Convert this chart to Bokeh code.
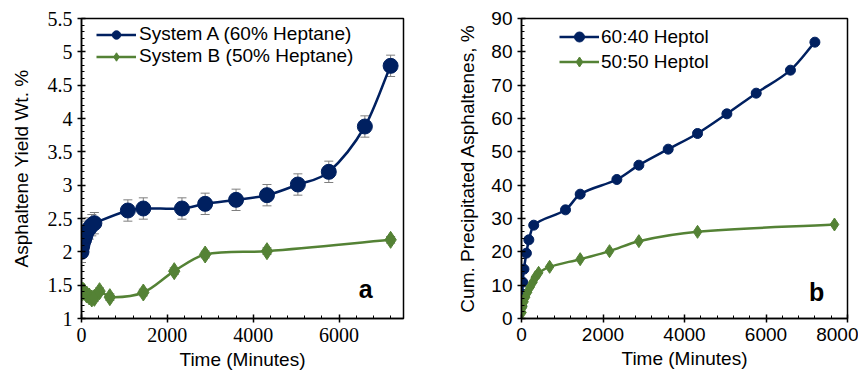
from bokeh.plotting import figure
from bokeh.layouts import row
from bokeh.models import (Range1d, SingleIntervalTicker, Whisker, TeeHead, ColumnDataSource,
                          Legend, LegendItem, Label)
from bokeh.embed import file_html
from bokeh.resources import INLINE

# ---------------- data: panel a ----------------
a_time = [0, 15, 30, 60, 90, 120, 180, 240, 300, 1080, 1440, 2340, 2880, 3600, 4320, 5040, 5760, 6600, 7200]
a_yield = [2.00, 2.08, 2.13, 2.18, 2.24, 2.30, 2.35, 2.40, 2.43, 2.62, 2.65, 2.65, 2.72, 2.78, 2.85, 3.01, 3.20, 3.88, 4.79]
a_err = [0.16] * 19

b_time = [0, 30, 60, 120, 180, 240, 300, 420, 660, 1440, 2160, 2880, 4320, 7200]
b_yield = [1.38, 1.42, 1.40, 1.36, 1.33, 1.30, 1.31, 1.41, 1.32, 1.39, 1.71, 1.96, 2.01, 2.18]
b_err = [0.05] * 14

# ---------------- data: panel b ----------------
c_time = [5, 15, 30, 60, 120, 180, 300, 1080, 1440, 2340, 2880, 3600, 4320, 5040, 5760, 6600, 7200]
c_cum = [3.8, 7.4, 10.9, 14.8, 19.6, 23.6, 28.0, 32.6, 37.3, 41.7, 46.0, 50.8, 55.5, 61.4, 67.6, 74.5, 82.9]

d_time = [10, 30, 60, 100, 150, 210, 280, 340, 420, 690, 1440, 2160, 2880, 4320, 7680]
d_cum = [1.8, 3.5, 5.0, 6.4, 7.9, 9.4, 10.9, 12.4, 13.7, 15.5, 17.8, 20.2, 23.2, 26.0, 28.2]

BLUE = "#002060"
GREEN = "#548235"
SANS = "Liberation Sans"
SERIF = "Liberation Serif"


def smooth_segments(xs, ys):
    """Cubic Hermite (in x) bezier control points so the connecting line is smoothed like Excel."""
    n = len(xs)
    m = []
    for i in range(n):
        if i == 0:
            m.append((ys[1] - ys[0]) / (xs[1] - xs[0]))
        elif i == n - 1:
            m.append((ys[-1] - ys[-2]) / (xs[-1] - xs[-2]))
        else:
            m.append((ys[i + 1] - ys[i - 1]) / (xs[i + 1] - xs[i - 1]))
    d = dict(x0=[], y0=[], x1=[], y1=[], cx0=[], cy0=[], cx1=[], cy1=[])
    for i in range(n - 1):
        h = xs[i + 1] - xs[i]
        d["x0"].append(xs[i]); d["y0"].append(ys[i])
        d["x1"].append(xs[i + 1]); d["y1"].append(ys[i + 1])
        d["cx0"].append(xs[i] + h / 3); d["cy0"].append(ys[i] + m[i] * h / 3)
        d["cx1"].append(xs[i + 1] - h / 3); d["cy1"].append(ys[i + 1] - m[i + 1] * h / 3)
    return ColumnDataSource(d)


def smooth_line(p, xs, ys, color, width):
    return p.bezier(x0="x0", y0="y0", x1="x1", y1="y1", cx0="cx0", cy0="cy0", cx1="cx1", cy1="cy1",
                    source=smooth_segments(xs, ys), line_color=color, line_width=width)


def style_axes(p, tick_font, tick_size):
    p.outline_line_color = "black"
    p.outline_line_width = 1.5
    p.grid.grid_line_color = None
    for ax in (p.xaxis[0], p.yaxis[0]):
        ax.axis_line_width = 1.5
        ax.axis_line_color = "black"
        ax.major_tick_in = 4
        ax.major_tick_out = 4
        ax.minor_tick_in = 3
        ax.minor_tick_out = 0
        ax.major_tick_line_color = "black"
        ax.minor_tick_line_color = "black"
        ax.major_tick_line_width = 1.5
        ax.minor_tick_line_width = 1
        ax.major_label_text_font = tick_font
        ax.major_label_text_font_size = tick_size
        ax.major_label_text_color = "black"
        ax.axis_label_text_font = SANS
        ax.axis_label_text_font_size = "19px"
        ax.axis_label_text_font_style = "normal"
        ax.axis_label_text_color = "black"


# ---------------- panel a ----------------
p1 = figure(width=431, height=372, output_backend="svg", toolbar_location=None,
            x_range=Range1d(0, 7500), y_range=Range1d(1, 5.5),
            min_border_left=81, min_border_right=28, min_border_top=18, min_border_bottom=52)
p1.xaxis.ticker = SingleIntervalTicker(interval=2000, num_minor_ticks=5)
p1.yaxis.ticker = SingleIntervalTicker(interval=0.5, num_minor_ticks=5)
p1.xaxis.axis_label = "Time (Minutes)"
p1.yaxis.axis_label = "Asphaltene Yield Wt. %"
style_axes(p1, SERIF, "20px")
p1.yaxis.axis_label_standoff = 13
p1.xaxis.axis_label_standoff = 4

src_a = ColumnDataSource(dict(x=a_time, y=a_yield,
                              up=[v + e for v, e in zip(a_yield, a_err)],
                              lo=[v - e for v, e in zip(a_yield, a_err)]))
src_b = ColumnDataSource(dict(x=b_time, y=b_yield,
                              up=[v + e for v, e in zip(b_yield, b_err)],
                              lo=[v - e for v, e in zip(b_yield, b_err)]))
for src in (src_a, src_b):
    w = Whisker(source=src, base="x", upper="up", lower="lo", line_color="#7f7f7f", line_width=1,
                upper_head=TeeHead(size=9, line_color="#7f7f7f", line_width=1),
                lower_head=TeeHead(size=9, line_color="#7f7f7f", line_width=1))
    p1.add_layout(w)

la = smooth_line(p1, a_time, a_yield, BLUE, 2.5)
sa = p1.scatter("x", "y", source=src_a, marker="circle", size=15, fill_color=BLUE, line_color=BLUE)
lb = smooth_line(p1, b_time, b_yield, GREEN, 2.5)
sb = p1.scatter("x", "y", source=src_b, marker="diamond", size=17, fill_color=GREEN, line_color=GREEN)

leg1 = Legend(items=[LegendItem(label="System A (60% Heptane)", renderers=[la, sa]),
                     LegendItem(label="System B (50% Heptane)", renderers=[lb, sb])],
              location=(15, 251), background_fill_alpha=0, border_line_color=None,
              label_text_font=SANS, label_text_font_size="19px", label_text_color="black",
              glyph_width=40, glyph_height=21, label_height=21, spacing=0, padding=0,
              margin=0, label_standoff=3)
p1.add_layout(leg1)
p1.add_layout(Label(x=6620, y=1.45, text="a", text_font=SANS, text_font_size="25px",
                    text_color="black", text_font_style="bold", text_align="center",
                    text_baseline="middle"))

# ---------------- panel b ----------------
p2 = figure(width=427, height=372, output_backend="svg", toolbar_location=None,
            x_range=Range1d(0, 8000), y_range=Range1d(0, 90),
            min_border_left=90, min_border_right=11, min_border_top=16, min_border_bottom=52)
p2.xaxis.ticker = SingleIntervalTicker(interval=2000, num_minor_ticks=5)
p2.yaxis.ticker = SingleIntervalTicker(interval=10, num_minor_ticks=5)
p2.xaxis.axis_label = "Time (Minutes)"
p2.yaxis.axis_label = "Cum. Precipitated Asphaltenes, %"
style_axes(p2, SANS, "19px")
p2.yaxis.axis_label_standoff = 10
p2.xaxis.axis_label_standoff = 4

lc = smooth_line(p2, c_time, c_cum, BLUE, 2.5)
sc = p2.scatter(c_time, c_cum, marker="circle", size=10, fill_color=BLUE, line_color=BLUE)
ld = smooth_line(p2, d_time, d_cum, GREEN, 2.5)
sd = p2.scatter(d_time, d_cum, marker="diamond", size=13, fill_color=GREEN, line_color=GREEN)

leg2 = Legend(items=[LegendItem(label="60:40 Heptol", renderers=[lc, sc]),
                     LegendItem(label="50:50 Heptol", renderers=[ld, sd])],
              location=(38, 244), background_fill_alpha=0, border_line_color=None,
              label_text_font=SANS, label_text_font_size="19px", label_text_color="black",
              glyph_width=40, glyph_height=25, label_height=25, spacing=0, padding=0,
              margin=0, label_standoff=2)
p2.add_layout(leg2)
p2.add_layout(Label(x=7240, y=8, text="b", text_font=SANS, text_font_size="25px",
                    text_color="black", text_font_style="bold", text_align="center",
                    text_baseline="middle"))

layout = row(p1, p2)
open("out.html", "w").write(file_html(layout, INLINE))
